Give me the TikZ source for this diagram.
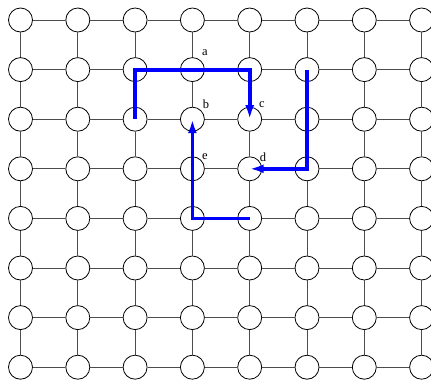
\documentclass[tikz,border=0pt]{standalone}
\usepackage{fontspec}
\setmainfont{Liberation Serif}
\usetikzlibrary{arrows.meta}
\tikzset{
  gridnode/.style={circle, draw=black, line width=0.8pt, fill=white, minimum size=24pt, inner sep=0pt},
  gridedge/.style={draw=black!70, line width=0.9pt},
  bluepath/.style={draw=blue, line width=3.8pt, line join=miter, line cap=butt},
  bluearrow/.style={bluepath, -{Latex[length=14pt,width=9pt]}},
  lbl/.style={font=\fontsize{12.5}{14}\selectfont, inner sep=0pt}
}
\begin{document}
\begin{tikzpicture}[x=1pt,y=-1pt]
\useasboundingbox (0,0) rectangle (431,381);
\foreach \i in {0,...,7}{
  \foreach \j in {0,...,7}{
    \node[gridnode] (n-\i-\j) at ({20.5+57.3*\i},{20+49.6*\j}) {};
  }
}
\foreach \i in {0,...,7}{
  \foreach \j [evaluate=\j as \k using int(\j+1)] in {0,...,6}{
    \draw[gridedge] (n-\i-\j) -- (n-\i-\k);
    \draw[gridedge] (n-\j-\i) -- (n-\k-\i);
  }
}
\node[lbl] (la) at (205,53) {a};
\node[lbl] (lb) at (206,104) {b};
\node[lbl] (lc) at (262,105) {c};
\node[lbl] (ld) at (263,157) {d};
\node[lbl] (le) at (205,157) {e};
\draw[bluearrow] (n-2-2.center) -- (n-2-1.center) -- (n-4-1.center) -- (n-4-2.center);
\draw[bluearrow] (n-5-1.center) -- (n-5-3.center) -- (n-4-3.center);
\draw[bluearrow] (n-4-4.center) -- (n-3-4.center) -- (n-3-2.center);
\end{tikzpicture}
\end{document}
